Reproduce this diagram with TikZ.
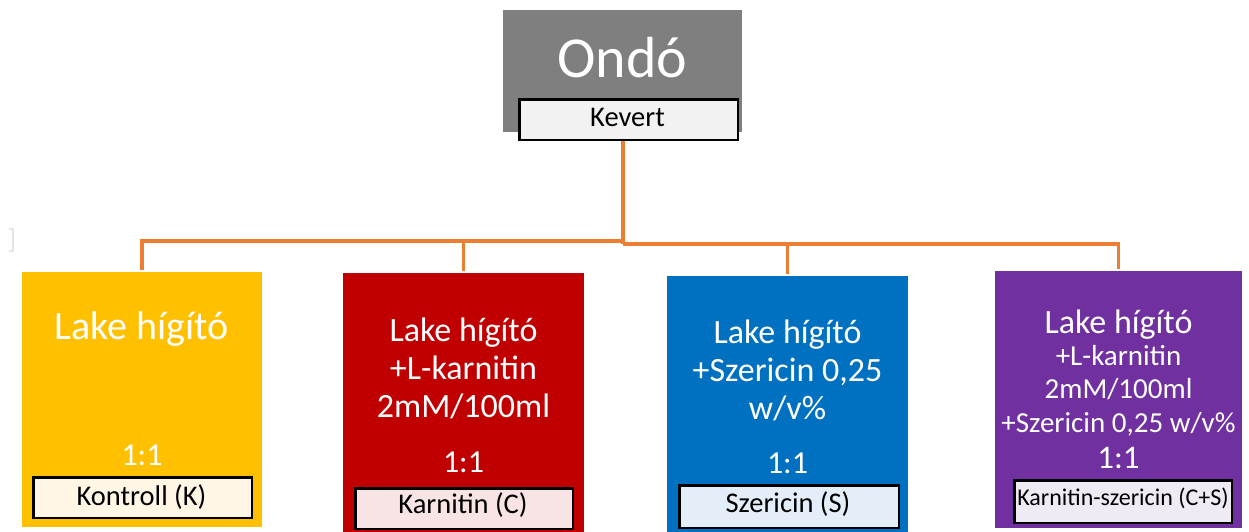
\documentclass[tikz,border=0pt]{standalone}
\usepackage{fontspec}
\setmainfont{Carlito}
\definecolor{cgray}{HTML}{7F7F7F}
\definecolor{cyel}{HTML}{FFC000}
\definecolor{cred}{HTML}{C00000}
\definecolor{cblu}{HTML}{0070C0}
\definecolor{cpur}{HTML}{7030A0}
\definecolor{corg}{HTML}{ED7D31}
\definecolor{lgray}{HTML}{F2F2F2}
\definecolor{lyel}{HTML}{FFF6E6}
\definecolor{lred}{HTML}{F8E4E4}
\definecolor{lblu}{HTML}{E3EEF8}
\definecolor{lpur}{HTML}{EFEAF4}
\newcommand{\fs}[1]{\fontsize{#1}{#1}\selectfont}
\begin{document}
\begin{tikzpicture}[x=1pt,y=-1pt,
  card/.style={draw=none, inner sep=0pt, anchor=north west},
  tag/.style={draw=black, line width=2.5pt, inner sep=0pt, anchor=north west},
  wtxt/.style={text=white, inner sep=0pt, anchor=base},
  btxt/.style={text=black, inner sep=0pt, anchor=base},
  conn/.style={draw=corg, line width=3.5pt, line join=miter}]
\useasboundingbox (0,0) rectangle (1249,532);
\fill[white] (0,0) rectangle (1249,532);
% faint bracket artifact
\draw[black!10, line width=1.2pt] (9,229) -- (13,229) -- (13,251) -- (9,251);
% top
\node[card, fill=cgray, minimum width=239pt, minimum height=122pt] (ondo) at (503,10) {};
\node[wtxt, font=\fs{58}] (ondot) at (622.5,78) {Ondó};
% cards
\node[card, fill=cyel, minimum width=240pt, minimum height=255pt] (yel) at (22,272) {};
\node[card, fill=cred, minimum width=241pt, minimum height=265pt] (red) at (343,273) {};
\node[card, fill=cblu, minimum width=241pt, minimum height=262pt] (blu) at (667,276) {};
\node[card, fill=cpur, minimum width=247pt, minimum height=257pt] (pur) at (995,271) {};
% connectors
\coordinate (jl) at (623,241);
\coordinate (jr) at (623,244);
\draw[conn] (623,140) -- (jr);
\draw[conn, shorten >=2pt] (jl) -| (yel.north);
\draw[conn, shorten >=2pt] (jl) -| (red.north);
\draw[conn, shorten >=2pt] (jr) -| (blu.north);
\draw[conn, shorten >=2pt] (jr) -| (pur.north);
% kevert tag
\node[tag, fill=lgray, minimum width=218.5pt, minimum height=40.5pt] (kevert) at (518.25,98.25) {};
\node[btxt, font=\fs{28.5}] (kevertt) at (627.5,126) {Kevert};
% yellow texts
\node[wtxt, font=\fs{40}] (y1) at (142,339) {Lake hígító};
\node[wtxt, font=\fs{32}] (y2) at (142,465) {1:1};
\node[tag, fill=lyel, minimum width=218.5pt, minimum height=40.5pt] (ktag) at (32.25,476.25) {};
\node[btxt, font=\fs{28.5}] (kt) at (141.5,505) {Kontroll (K)};
% red texts
\node[wtxt, font=\fs{34}] (r1) at (463.5,341) {Lake hígító};
\node[wtxt, font=\fs{34}] (r2) at (463.5,379) {+L-karnitin};
\node[wtxt, font=\fs{34}] (r3) at (463.5,417) {2mM/100ml};
\node[wtxt, font=\fs{32}] (r4) at (463.5,472) {1:1};
\node[tag, fill=lred, minimum width=217.5pt, minimum height=40.5pt] (ctag) at (354.25,487.25) {};
\node[btxt, font=\fs{28.5}] (ct) at (463,513) {Karnitin (C)};
% blue texts
\node[wtxt, font=\fs{34}] (b1) at (787.5,343) {Lake hígító};
\node[wtxt, font=\fs{34}] (b2) at (787.5,381) {+Szericin 0,25};
\node[wtxt, font=\fs{34}] (b3) at (787.5,419) {w/v\%};
\node[wtxt, font=\fs{32}] (b4) at (787.5,473) {1:1};
\node[tag, fill=lblu, minimum width=219.5pt, minimum height=42.5pt] (stag) at (678.25,484.25) {};
\node[btxt, font=\fs{28.5}] (st) at (788,512) {Szericin (S)};
% purple texts
\node[wtxt, font=\fs{34}] (p1) at (1118.5,333) {Lake hígító};
\node[wtxt, font=\fs{29}] (p2) at (1118.5,365) {+L-karnitin};
\node[wtxt, font=\fs{29}] (p3) at (1118.5,398) {2mM/100ml};
\node[wtxt, font=\fs{29}] (p4) at (1118.5,432) {+Szericin 0,25 w/v\%};
\node[wtxt, font=\fs{33}] (p5) at (1118.5,468) {1:1};
\node[tag, fill=lpur, minimum width=217.5pt, minimum height=42.5pt] (cstag) at (1013.25,479.25) {};
\node[btxt, font=\fs{24}] (cst) at (1123,505) {Karnitin-szericin (C+S)};
\end{tikzpicture}
\end{document}
